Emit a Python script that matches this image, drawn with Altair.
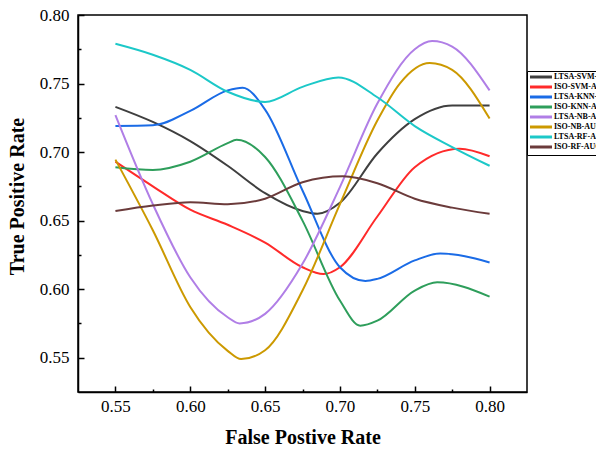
import altair as alt
import pandas as pd

series_names = ["LTSA-SVM-AUC", "ISO-SVM-AUC", "LTSA-KNN-AUC", "ISO-KNN-AUC",
                "LTSA-NB-AUC", "ISO-NB-AUC", "LTSA-RF-AUC", "ISO-RF-AUC"]
series_colors = ["#3f3f3f", "#ff2a2a", "#1a6be6", "#2e9e5b",
                 "#b07ee6", "#cc9900", "#1cc8c8", "#6b3b3b"]

fpr_ltsa_svm = [0.55, 0.575, 0.60, 0.625, 0.65, 0.675, 0.685, 0.70, 0.725, 0.75, 0.775, 0.80]
tpr_ltsa_svm = [0.733, 0.722, 0.708, 0.690, 0.670, 0.657, 0.655, 0.663, 0.699, 0.724, 0.734, 0.734]

fpr_iso_svm = [0.55, 0.575, 0.60, 0.625, 0.65, 0.675, 0.689, 0.70, 0.725, 0.75, 0.78, 0.80]
tpr_iso_svm = [0.693, 0.675, 0.658, 0.647, 0.634, 0.616, 0.611, 0.616, 0.653, 0.689, 0.7025, 0.697]

fpr_ltsa_knn = [0.55, 0.575, 0.60, 0.625, 0.635, 0.65, 0.675, 0.70, 0.717, 0.725, 0.75, 0.767, 0.80]
tpr_ltsa_knn = [0.719, 0.7195, 0.730, 0.745, 0.747, 0.731, 0.672, 0.616, 0.606, 0.6075, 0.621, 0.626, 0.6195]

fpr_iso_knn = [0.55, 0.575, 0.60, 0.625, 0.631, 0.65, 0.675, 0.70, 0.7136, 0.725, 0.75, 0.765, 0.80]
tpr_iso_knn = [0.689, 0.687, 0.693, 0.7065, 0.709, 0.6964, 0.650, 0.5917, 0.5734, 0.577, 0.599, 0.605, 0.5946]

fpr_ltsa_nb = [0.55, 0.575, 0.60, 0.625, 0.633, 0.65, 0.675, 0.70, 0.725, 0.75, 0.7616, 0.775, 0.80]
tpr_ltsa_nb = [0.727, 0.662, 0.6087, 0.5795, 0.575, 0.582, 0.6185, 0.6745, 0.7354, 0.775, 0.781, 0.777, 0.745]

fpr_iso_nb = [0.55, 0.575, 0.60, 0.625, 0.634, 0.65, 0.675, 0.70, 0.725, 0.74, 0.76, 0.775, 0.80]
tpr_iso_nb = [0.6945, 0.643, 0.587, 0.555, 0.549, 0.5555, 0.599, 0.662, 0.723, 0.750, 0.765, 0.760, 0.7245]

fpr_ltsa_rf = [0.55, 0.575, 0.60, 0.625, 0.65, 0.675, 0.699, 0.725, 0.75, 0.775, 0.80]
tpr_ltsa_rf = [0.779, 0.771, 0.760, 0.744, 0.7366, 0.7476, 0.7545, 0.740, 0.719, 0.7037, 0.690]

fpr_iso_rf = [0.55, 0.575, 0.60, 0.625, 0.65, 0.675, 0.702, 0.725, 0.75, 0.775, 0.80]
tpr_iso_rf = [0.657, 0.661, 0.6635, 0.662, 0.666, 0.678, 0.6823, 0.6773, 0.666, 0.6595, 0.655]

# major ticks (labelled) and minor ticks in between
tick_values = [0.55, 0.575, 0.60, 0.625, 0.65, 0.675, 0.70, 0.725, 0.75, 0.775, 0.80]

all_fpr = [fpr_ltsa_svm, fpr_iso_svm, fpr_ltsa_knn, fpr_iso_knn,
           fpr_ltsa_nb, fpr_iso_nb, fpr_ltsa_rf, fpr_iso_rf]
all_tpr = [tpr_ltsa_svm, tpr_iso_svm, tpr_ltsa_knn, tpr_iso_knn,
           tpr_ltsa_nb, tpr_iso_nb, tpr_ltsa_rf, tpr_iso_rf]

rows = []
for name, xs, ys in zip(series_names, all_fpr, all_tpr):
    for j, (xv, yv) in enumerate(zip(xs, ys)):
        rows.append({"series": name, "idx": j, "fpr": xv, "tpr": yv})
df = pd.DataFrame(rows)

W, H = 449, 377
FONT = "Liberation Serif"
is_major = "round(datum.value*1000) % 50 == 0"
label_expr = f"{is_major} ? format(datum.value, '.2f') : ''"
tick_dash = {"condition": {"test": is_major, "value": [7, 0]}, "value": [3, 9]}

x_axis = alt.Axis(
    values=tick_values, labelExpr=label_expr, grid=False,
    tickSize={"expr": "-6"}, tickColor="black", tickWidth=1.5, tickDash=tick_dash,
    labelPadding=12, labelFont=FONT, labelFontSize=17, labelColor="black",
    domainColor="black", domainWidth=1.5,
    title="False Postive Rate", titleFont=FONT, titleFontSize=20,
    titleFontWeight="bold", titleColor="black",
    titleBaseline="alphabetic", titleY=51,
)
y_axis = alt.Axis(
    values=tick_values, labelExpr=label_expr, grid=False,
    tickSize={"expr": "-6"}, tickColor="black", tickWidth=1.5, tickDash=tick_dash,
    labelPadding=15, labelFont=FONT, labelFontSize=17, labelColor="black",
    domainColor="black", domainWidth=1.5,
    title="True Positive Rate", titleFont=FONT, titleFontSize=20,
    titleFontWeight="bold", titleColor="black",
    titleBaseline="alphabetic", titleX=-55, titleY=181,
)

chart = alt.Chart(df).mark_line(interpolate="monotone", strokeWidth=2).encode(
    x=alt.X("fpr:Q", scale=alt.Scale(domain=[0.525, 0.825], nice=False, zero=False), axis=x_axis),
    y=alt.Y("tpr:Q", scale=alt.Scale(domain=[0.525, 0.80], nice=False, zero=False), axis=y_axis),
    color=alt.Color("series:N", scale=alt.Scale(domain=series_names, range=series_colors),
                    sort=series_names,
                    legend=alt.Legend(
                        title=None, orient="none", legendX=449, legendY=56,
                        symbolType="M-4.4,0H4.4", symbolSize=25, symbolStrokeWidth=3,
                        symbolOffset=8, labelOffset=9, padding=2, rowPadding=-2,
                        labelFont=FONT, labelFontSize=8, labelFontWeight="bold",
                        labelColor="black", labelLimit=300,
                        strokeColor="black", fillColor="white")),
    detail="series:N",
    order="idx:Q",
).properties(
    width=W, height=H,
    autosize=alt.AutoSizeParams(type="none"),
    padding={"left": 70, "top": 7, "right": 69, "bottom": 52},
).configure(
    background="white",
    view=alt.ViewConfig(stroke="black", strokeWidth=1.5),
    legend=alt.LegendConfig(strokeWidth=1),
)

chart.save("out.html", embed_options={"renderer": "svg", "actions": False})
